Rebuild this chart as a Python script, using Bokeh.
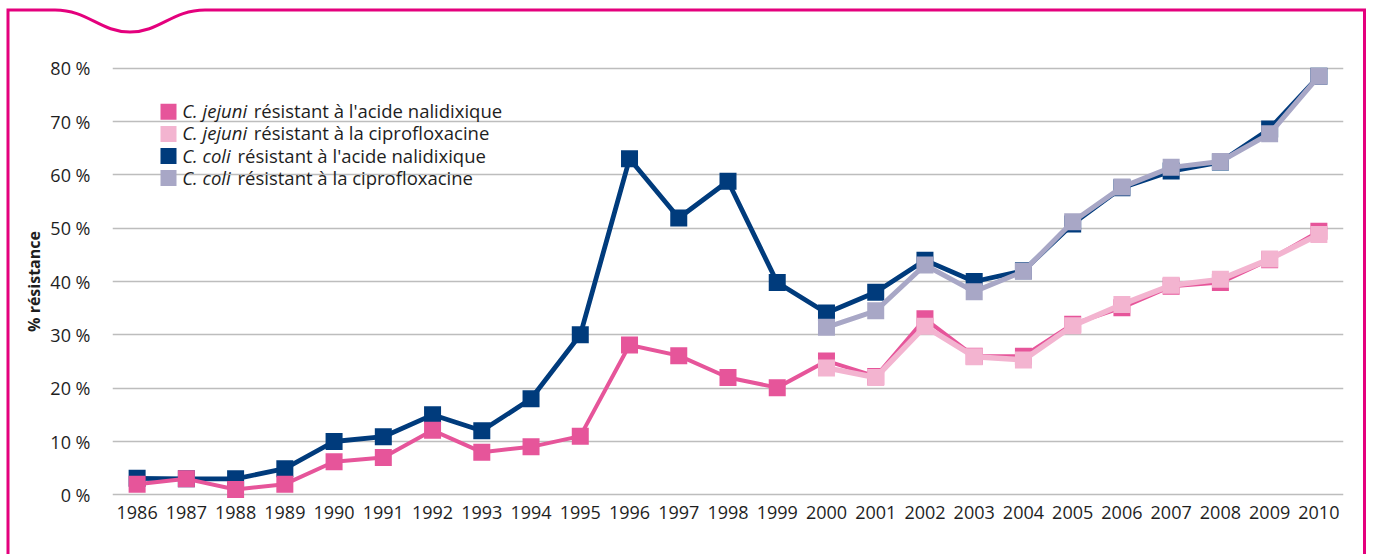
from bokeh.plotting import figure
from bokeh.models import Range1d, FixedTicker, Label
from bokeh.embed import file_html
from bokeh.resources import INLINE

# ---------------- data ----------------
years = [1986, 1987, 1988, 1989, 1990, 1991, 1992, 1993, 1994, 1995, 1996, 1997,
         1998, 1999, 2000, 2001, 2002, 2003, 2004, 2005, 2006, 2007, 2008, 2009, 2010]
years_cipro = [2000, 2001, 2002, 2003, 2004, 2005, 2006, 2007, 2008, 2009, 2010]

jejuni_nal = [2.0, 3.0, 1.0, 2.0, 6.2, 7.0, 12.1, 8.0, 9.0, 11.0, 28.1, 26.1,
              22.0, 20.1, 25.1, 22.2, 33.0, 26.0, 26.0, 32.0, 35.1, 39.1, 39.8, 44.1, 49.4]
jejuni_cipro = [23.8, 22.0, 31.6, 25.9, 25.3, 31.7, 35.7, 39.3, 40.4, 44.2, 48.8]
coli_nal = [3.1, 3.0, 3.0, 4.9, 10.0, 10.9, 15.0, 12.0, 18.0, 30.0, 63.0, 51.9,
            58.8, 39.8, 34.1, 38.0, 44.0, 40.0, 42.0, 50.8, 57.6, 60.7, 62.4, 68.6, 78.5]
coli_cipro = [31.4, 34.5, 43.1, 38.1, 41.9, 51.2, 57.7, 61.4, 62.5, 67.7, 78.5]

y_ticks = [0, 10, 20, 30, 40, 50, 60, 70, 80]
y_tick_labels = ["0 %", "10 %", "20 %", "30 %", "40 %", "50 %", "60 %", "70 %", "80 %"]
y_title = "% résistance"

legend_species = ["C. jejuni", "C. jejuni", "C. coli", "C. coli"]
legend_rest = ["résistant à l'acide nalidixique", "résistant à la ciprofloxacine",
               "résistant à l'acide nalidixique", "résistant à la ciprofloxacine"]

# ---------------- styles ----------------
PINK = "#E6559A"
LIGHT_PINK = "#F3B4D0"
BLUE = "#003B7C"
LAVENDER = "#A8A7C6"
BORDER = "%23E4007D"  # url-encoded '#'
TEXT = "#1E1E1E"
FONT = "Open Sans"
legend_colors = [PINK, LIGHT_PINK, BLUE, LAVENDER]

X0, X1 = 1985.5, 2010.5
Y0, Y1 = -2, 82
W, H = 1371, 554
ML, MT = 112, 57
FW, FH = 1231, 448
MR, MB = W - ML - FW, H - MT - FH
XS = FW / (X1 - X0)
YS = FH / (Y1 - Y0)


def dx(px):
    return X0 + (px - ML) / XS


def dy(py):
    return Y0 + (MT + FH - py) / YS


# decorative pink frame with the notch at top-left (CSS background, outside the plot frame)
border_svg = (
    f"<svg xmlns='http://www.w3.org/2000/svg' width='{W}' height='{H}'>"
    f"<path d='M 8 {H + 20} L 8 10 L 55 10 C 88 10 100 32 130 32 "
    f"C 160 32 172 10 205 10 L 1364.5 10 L 1364.5 {H + 20}' "
    f"fill='none' stroke='{BORDER}' stroke-width='3'/></svg>"
)

p = figure(width=W, height=H, x_range=Range1d(X0, X1), y_range=Range1d(Y0, Y1),
           output_backend="svg", toolbar_location=None,
           min_border_left=ML, min_border_right=MR, min_border_top=MT, min_border_bottom=MB)
p.outline_line_color = None
p.background_fill_color = "white"
p.border_fill_color = None
p.styles = {
    "background-color": "white",
    "background-image": f'url("data:image/svg+xml;utf8,{border_svg}")',
    "background-repeat": "no-repeat",
}

p.xgrid.visible = False
p.ygrid.ticker = FixedTicker(ticks=y_ticks)
p.ygrid.grid_line_color = "#BDBDBD"
p.ygrid.grid_line_width = 1.6

for ax in (p.xaxis[0], p.yaxis[0]):
    ax.axis_line_color = None
    ax.major_tick_line_color = None
    ax.minor_tick_line_color = None
    ax.major_tick_out = 0
    ax.major_tick_in = 0
    ax.major_label_text_font = FONT
    ax.major_label_text_font_size = "18px"
    ax.major_label_text_color = TEXT

p.xaxis.ticker = FixedTicker(ticks=years)
p.xaxis.major_label_standoff = 0
p.yaxis.ticker = FixedTicker(ticks=y_ticks)
p.yaxis.major_label_overrides = {t: l for t, l in zip(y_ticks, y_tick_labels)}
p.yaxis.major_label_standoff = 22
p.yaxis.axis_label = y_title
p.yaxis.axis_label_text_font = FONT
p.yaxis.axis_label_text_font_style = "bold"
p.yaxis.axis_label_text_font_size = "16px"
p.yaxis.axis_label_text_color = TEXT
p.yaxis.axis_label_standoff = 2

MS = 17
series = [
    (years, coli_nal, BLUE, 4.8),
    (years_cipro, coli_cipro, LAVENDER, 5),
    (years, jejuni_nal, PINK, 4),
    (years_cipro, jejuni_cipro, LIGHT_PINK, 5.5),
]
for xs, ys, col, lw in series:
    p.line(xs, ys, line_color=col, line_width=lw, line_join="round")
    p.scatter(xs, ys, marker="square", size=MS, fill_color=col, line_color=None)

# ---------------- legend ----------------
row_center = [111.3, 133.4, 155.5, 177.6]
text_base = [110.3, 132.4, 154.5, 176.6]
rest_x = [253.3, 253.3, 237.0, 237.0]
for i in range(4):
    p.scatter([dx(168)], [dy(row_center[i])], marker="square", size=16,
              fill_color=legend_colors[i], line_color=None)
    p.add_layout(Label(x=dx(181.7), y=dy(text_base[i]), text=legend_species[i],
                       text_font=FONT, text_font_style="italic", text_font_size="18.5px",
                       text_color=TEXT, text_baseline="alphabetic"))
    p.add_layout(Label(x=dx(rest_x[i]), y=dy(text_base[i]), text=legend_rest[i],
                       text_font=FONT, text_font_size="18.5px",
                       text_color=TEXT, text_baseline="alphabetic"))

open("out.html", "w").write(file_html(p, INLINE))
